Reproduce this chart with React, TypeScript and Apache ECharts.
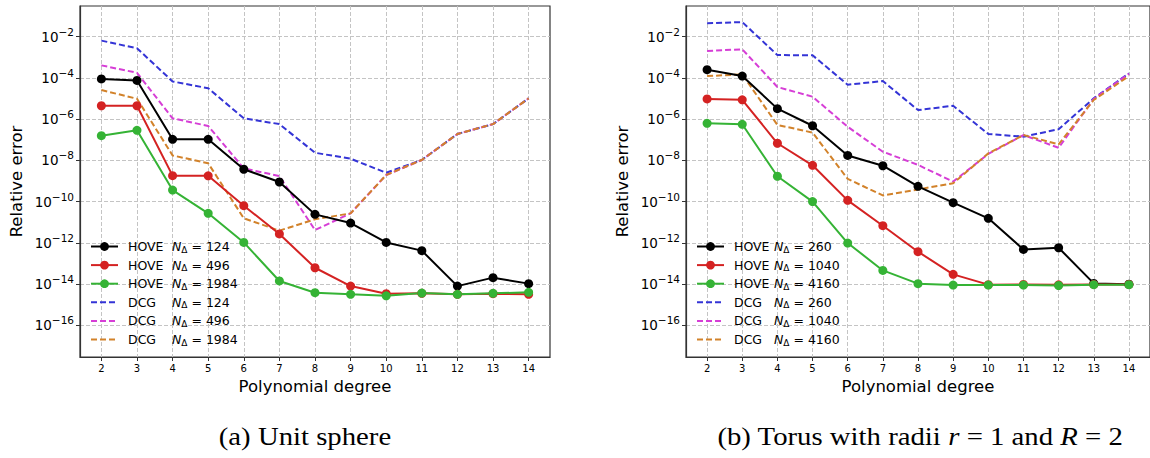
import React, { useEffect, useRef } from "react";
import * as echarts from "echarts";

// Polynomial degrees (x values)
const degrees = [2, 3, 4, 5, 6, 7, 8, 9, 10, 11, 12, 13, 14];
const yTickExponents = [-16, -14, -12, -10, -8, -6, -4, -2];

// log10 of relative error — (a) Unit sphere
const sphereHove124 = [-4.05, -4.12, -6.98, -6.98, -8.43, -9.05, -10.62, -11.04, -11.98, -12.38, -14.1, -13.69, -13.98];
const sphereHove496 = [-5.35, -5.35, -8.74, -8.75, -10.2, -11.57, -13.21, -14.1, -14.47, -14.45, -14.5, -14.47, -14.5];
const sphereHove1984 = [-6.8, -6.54, -9.44, -10.57, -11.98, -13.85, -14.42, -14.5, -14.57, -14.44, -14.5, -14.45, -14.4];
const sphereDcg124 = [-2.19, -2.56, -4.17, -4.5, -5.96, -6.24, -7.63, -7.92, -8.6, -7.98, -6.72, -6.24, -4.99];
const sphereDcg496 = [-3.39, -3.75, -5.96, -6.33, -8.39, -8.76, -11.38, -10.57, -8.71, -7.98, -6.72, -6.24, -4.99];
const sphereDcg1984 = [-4.59, -5.01, -7.76, -8.14, -10.81, -11.41, -10.86, -10.57, -8.71, -7.98, -6.72, -6.24, -4.99];

// log10 of relative error — (b) Torus r = 1, R = 2
const torusHove260 = [-3.6, -3.91, -5.49, -6.32, -7.76, -8.26, -9.26, -10.05, -10.81, -12.32, -12.24, -13.97, -14.01];
const torusHove1040 = [-5.02, -5.06, -7.17, -8.24, -9.94, -11.17, -12.43, -13.53, -14.03, -14.02, -14.04, -14.02, -14.02];
const torusHove4160 = [-6.2, -6.25, -8.77, -10.0, -12.01, -13.34, -13.98, -14.05, -14.05, -14.05, -14.07, -14.03, -14.03];
const torusDcg260 = [-1.35, -1.29, -2.89, -2.9, -4.33, -4.15, -5.56, -5.35, -6.72, -6.85, -6.49, -4.99, -3.78];
const torusDcg1040 = [-2.69, -2.61, -4.44, -4.91, -6.37, -7.58, -8.22, -9.03, -7.69, -6.77, -7.39, -5.02, -3.8];
const torusDcg4160 = [-3.91, -3.83, -6.28, -6.65, -8.9, -9.7, -9.41, -9.11, -7.66, -6.77, -7.22, -5.07, -3.91];

const sphereNames = ["HOVE 124", "HOVE 496", "HOVE 1984", "DCG 124", "DCG 496", "DCG 1984"];
const torusNames = ["HOVE 260", "HOVE 1040", "HOVE 4160", "DCG 260", "DCG 1040", "DCG 4160"];
const sphereData = [sphereHove124, sphereHove496, sphereHove1984, sphereDcg124, sphereDcg496, sphereDcg1984];
const torusData = [torusHove260, torusHove1040, torusHove4160, torusDcg260, torusDcg1040, torusDcg4160];
const colors = ["#000000", "#d42222", "#35b335", "#3434d6", "#d63ed6", "#d2822a"];

const FONT = "DejaVu Sans";

function makeSeries(names: string[], data: number[][], idx: number) {
  return names.map((name, i) => {
    const hove = i < 3;
    return {
      name,
      type: "line",
      xAxisIndex: idx,
      yAxisIndex: idx,
      data: degrees.map((d, k) => [d, data[i][k]]),
      symbol: "circle",
      symbolSize: 9,
      showSymbol: hove,
      z: hove ? 3 : 2,
      lineStyle: { color: colors[i], width: 2, type: hove ? "solid" : [6, 3] },
      itemStyle: { color: colors[i], borderWidth: 0 },
    };
  });
}

function xAxis(idx: number) {
  return {
    type: "value",
    gridIndex: idx,
    min: 1.4,
    max: 14.6,
    splitNumber: 13,
    name: "Polynomial degree",
    nameLocation: "middle",
    nameGap: 21,
    nameTextStyle: { fontFamily: FONT, fontSize: 16.5, color: "#000", verticalAlign: "top" },
    axisLine: { show: true, onZero: false, lineStyle: { color: "#333", width: 1.2 } },
    axisTick: { show: true, length: 4, customValues: degrees, lineStyle: { color: "#333" } },
    axisLabel: {
      customValues: degrees,
      fontFamily: FONT,
      fontSize: 10,
      color: "#000",
      margin: 6,
      formatter: (v: number) => String(v),
    },
    splitLine: { show: true, lineStyle: { color: "#c4c4c4", type: [4, 2], width: 1 } },
  };
}

function yAxis(idx: number) {
  return {
    type: "value",
    gridIndex: idx,
    min: -17.54,
    max: -0.51,
    splitNumber: 8,
    name: "Relative error",
    nameLocation: "middle",
    nameGap: 55,
    nameTextStyle: { fontFamily: FONT, fontSize: 16.5, color: "#000" },
    axisLine: { show: true, onZero: false, lineStyle: { color: "#333", width: 1.2 } },
    axisTick: { show: true, length: 4, customValues: yTickExponents, lineStyle: { color: "#333" } },
    axisLabel: {
      customValues: yTickExponents,
      margin: 6,
      formatter: (v: number) => `{b|10}{s|\u2212${Math.abs(Math.round(v))}}`,
      rich: {
        b: { fontFamily: FONT, fontSize: 13.5, color: "#000" },
        s: { fontFamily: FONT, fontSize: 10.5, color: "#000", padding: [0, 0, 10, 0] },
      },
    },
    splitLine: { show: true, lineStyle: { color: "#c4c4c4", type: [4, 2], width: 1 } },
  };
}

function legend(names: string[], left: number, methodWidth: number) {
  return {
    orient: "vertical",
    left,
    top: 240,
    padding: 0,
    itemWidth: 27,
    itemHeight: 11,
    itemGap: 4.6,
    data: names.map((name, i) =>
      i < 3 ? { name } : { name, itemStyle: { opacity: 0, color: "transparent", borderWidth: 0 } }
    ),
    formatter: (name: string) => {
      const [m, n] = name.split(" ");
      return `{m|${m}}{n|N}{d|\u0394}{v| = ${n}}`;
    },
    textStyle: {
      fontFamily: FONT,
      fontSize: 12.5,
      color: "#000",
      rich: {
        m: { fontFamily: FONT, fontSize: 12.5, width: methodWidth, padding: [0, 0, 0, 5], color: "#000" },
        n: { fontFamily: FONT, fontSize: 12.5, fontStyle: "italic", color: "#000" },
        d: { fontFamily: FONT, fontSize: 9, color: "#000", padding: [6, 0, 0, 0] },
        v: { fontFamily: FONT, fontSize: 12.5, color: "#000" },
      },
    },
  };
}

export default function App() {
  const ref = useRef<HTMLDivElement>(null);
  useEffect(() => {
    if (!ref.current) return;
    const chart = echarts.init(ref.current, null, { renderer: "svg" });
    chart.setOption({
      animation: false,
      backgroundColor: "#ffffff",
      grid: [
        { left: 80, top: 6, width: 470, height: 351, show: true, borderColor: "#333", borderWidth: 1.2, backgroundColor: "transparent" },
        { left: 686, top: 6, width: 469, height: 351, show: true, borderColor: "#333", borderWidth: 1.2, backgroundColor: "transparent" },
      ],
      xAxis: [xAxis(0), xAxis(1)],
      yAxis: [yAxis(0), yAxis(1)],
      legend: [legend(sphereNames, 90, 44), legend(torusNames, 696, 40)],
      series: [...makeSeries(sphereNames, sphereData, 0), ...makeSeries(torusNames, torusData, 1)],
      graphic: [
        {
          type: "text",
          x: 305,
          y: 437,
          scaleX: 1.15,
          style: {
            text: "(a) Unit sphere",
            fontFamily: "Liberation Serif",
            fontSize: 25,
            fill: "#000",
            align: "center",
            verticalAlign: "middle",
          },
        },
        {
          type: "text",
          x: 920,
          y: 437,
          scaleX: 1.15,
          style: {
            text: "(b) Torus with radii {i|r} = 1 and {i|R} = 2",
            fontFamily: "Liberation Serif",
            fontSize: 25,
            fill: "#000",
            align: "center",
            verticalAlign: "middle",
            rich: {
              i: { fontFamily: "Liberation Serif", fontSize: 25, fontStyle: "italic", fill: "#000" },
            },
          },
        },
      ],
    });
    return () => chart.dispose();
  }, []);
  return (
    <div
      ref={ref}
      style={{ position: "fixed", left: 0, top: 0, width: 1150, height: 458, background: "#fff" }}
    />
  );
}
